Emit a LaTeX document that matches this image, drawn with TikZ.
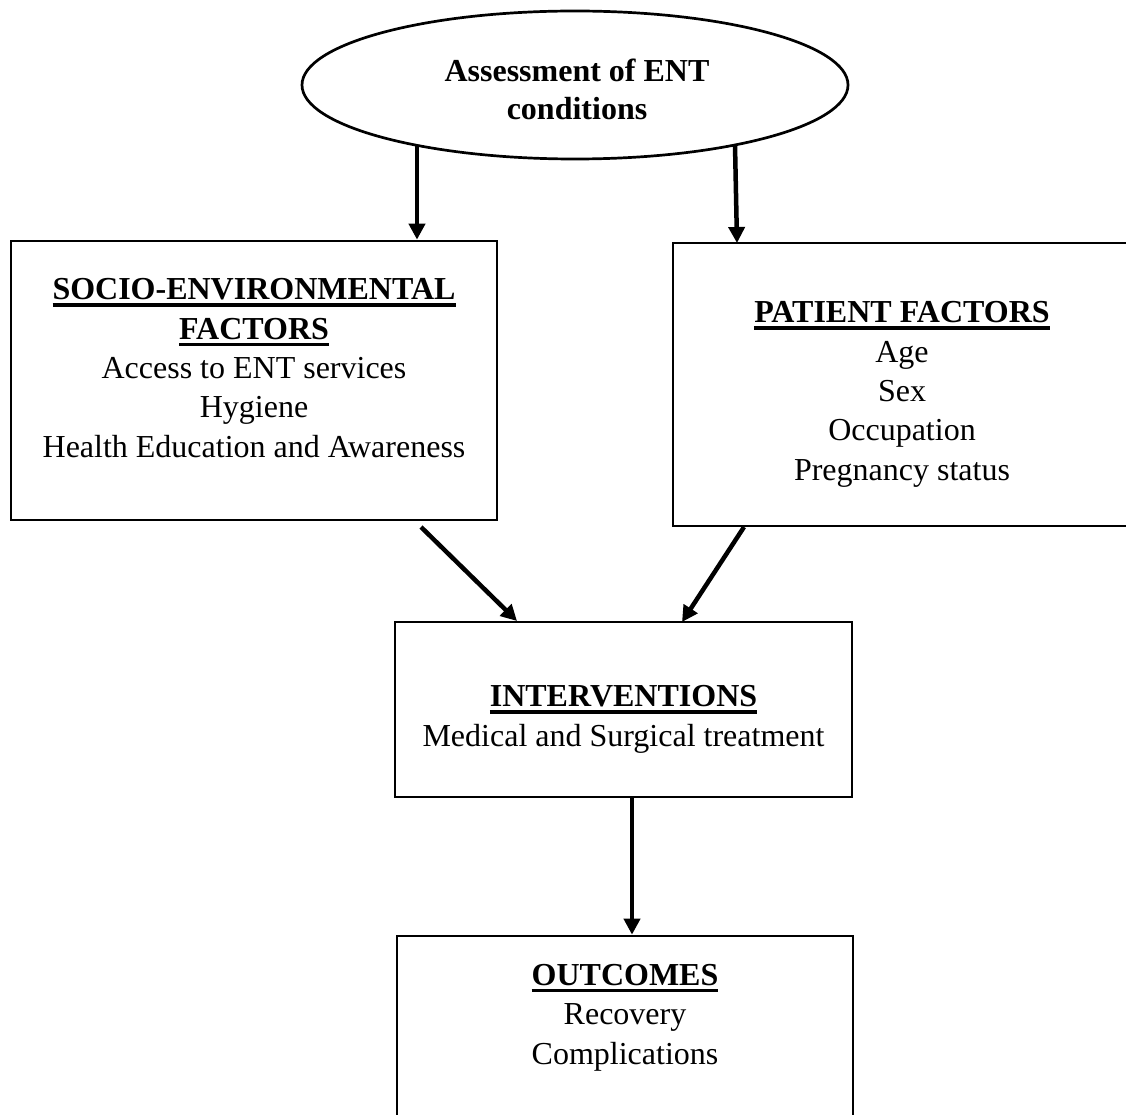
\documentclass[tikz,border=0pt]{standalone}
\usepackage{fontspec}
\setmainfont{Liberation Serif}
\usetikzlibrary{positioning}
\usetikzlibrary{arrows.meta}
\usetikzlibrary{shapes.geometric}
\newcommand{\hdr}[1]% bold heading with a thick underline
{\setbox0\hbox{\textbf{#1}}\leavevmode\rlap{\rule[-7pt]{\wd0}{3.4pt}}\box0}

\begin{document}
\begin{tikzpicture}[x=1pt,y=-1pt,line width=2.7pt]
\tikzstyle{box}=[draw,rectangle,inner sep=0pt]
\tikzstyle{txt}=[align=center,inner sep=0pt,anchor=base,font=\fontsize{32}{39.3}\selectfont]
\tikzstyle{arr}=[line width=4.5pt,-{Triangle[length=16pt,width=16pt]}]
\useasboundingbox (0,0) rectangle (1126,1115);

% top ellipse (text placed on its last baseline)
\node[draw,ellipse,inner sep=0pt,minimum width=546pt,minimum height=148pt] (assess) at (575,85) {};
\node[txt,font=\fontsize{32}{38}\selectfont\bfseries] (assesst) at (577,120) {Assessment of ENT\\conditions};

% left box
\node[box,minimum width=486pt,minimum height=279pt] (socio) at (254,380.5) {};
\node[txt] (sociot) at (254,457) {\hdr{SOCIO-ENVIRONMENTAL}\\\hdr{FACTORS}\\Access to ENT services\\Hygiene\\Health Education and Awareness};

% right box (right side runs off the page)
\node[box,minimum width=458pt,minimum height=283pt] (patient) at (902,384.5) {};
\node[txt] (patientt) at (902,480) {\hdr{PATIENT FACTORS}\\Age\\Sex\\Occupation\\Pregnancy status};

% middle box
\node[box,minimum width=457pt,minimum height=175pt] (interv) at (623.5,709.5) {};
\node[txt] (intervt) at (623.5,746) {\hdr{INTERVENTIONS}\\Medical and Surgical treatment};

% bottom box (cut by the page edge)
\node[box,minimum width=456pt,minimum height=244pt] (outcome) at (625,1058) {};
\node[txt] (outcomet) at (625,1064) {\hdr{OUTCOMES}\\Recovery\\Complications};

% arrow ends
\coordinate (e1) at (417,145);
\coordinate (e2) at (735,145);
\coordinate (s1) at (421,527);
\coordinate (p1) at (744,527);
\coordinate (i1) at (632,797);
\coordinate (m1) at (517,621);
\coordinate (m2) at (682,622);

\draw[arr] (e1) -- (e1 |- socio.north);
\draw[arr] (e2) -- (737,243);
\draw[arr] (s1) -- (m1);
\draw[arr] (p1) -- (m2);
\draw[arr] (i1) -- (i1 |- outcome.north);
\end{tikzpicture}
\end{document}
